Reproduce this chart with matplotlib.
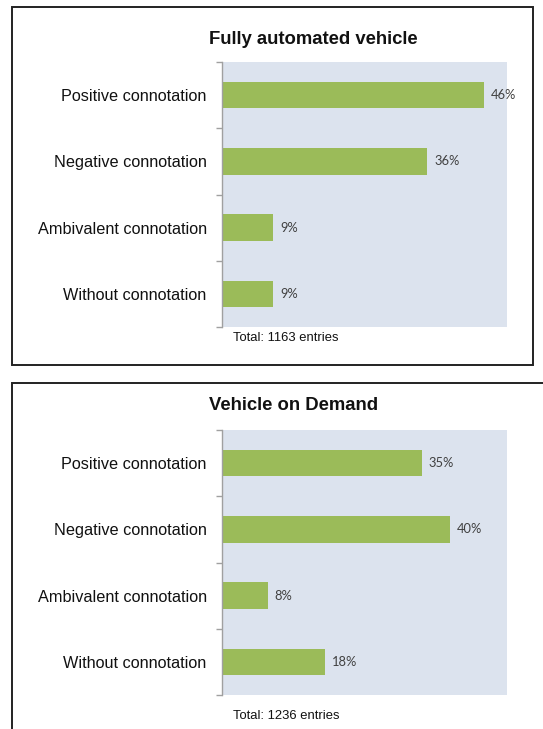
import matplotlib
matplotlib.use("Agg")
import matplotlib.pyplot as plt
from matplotlib.patches import Rectangle

categories = ["Positive connotation", "Negative connotation",
              "Ambivalent connotation", "Without connotation"]
titles = ["Fully automated vehicle", "Vehicle on Demand"]
values_fav = [46, 36, 9, 9]
values_vod = [35, 40, 8, 18]
totals = ["Total: 1163 entries", "Total: 1236 entries"]

W, H = 543, 729
fig = plt.figure(figsize=(W / 100, H / 100), dpi=100)
plt.rcParams['font.family'] = ['Liberation Sans', 'DejaVu Sans']

BAR = '#9bbb59'
BG = '#dce3ee'


def fx(px):
    return px / W


def fy(py):
    return 1 - py / H


# panel frames
fig.add_artist(Rectangle((fx(12), fy(365)), fx(533) - fx(12), fy(7) - fy(365),
                         transform=fig.transFigure, fill=False,
                         edgecolor='#222222', linewidth=1.4))
fig.add_artist(Rectangle((fx(12), fy(760)), fx(600) - fx(12), fy(383) - fy(760),
                         transform=fig.transFigure, fill=False,
                         edgecolor='#222222', linewidth=1.4, clip_on=False))

panels = [(values_fav, 62, 327, 40, 338), (values_vod, 430, 695, 405, 716)]

for i, (vals, top, bot, ty, toty) in enumerate(panels):
    ax = fig.add_axes([fx(222), fy(bot), fx(507) - fx(222), fy(top) - fy(bot)])
    ax.set_facecolor(BG)
    y = list(range(len(categories)))
    ax.barh(y, vals, height=0.4, color=BAR, edgecolor='none')
    ax.set_xlim(0, 50)
    ax.set_ylim(len(categories) - 0.5, -0.5)
    ax.set_xticks([])
    ax.set_yticks([k - 0.5 for k in range(len(categories) + 1)])
    ax.set_yticklabels([])
    ax.set_yticks(y, minor=True)
    ax.set_yticklabels(categories, minor=True, fontsize=11.7, color='#111111')
    ax.tick_params(axis='y', which='minor', length=0, pad=11)
    ax.tick_params(axis='y', which='major', length=4, color='#a0a0a0', width=1)
    for s in ['top', 'right', 'bottom']:
        ax.spines[s].set_visible(False)
    ax.spines['left'].set_color('#a0a0a0')
    ax.spines['left'].set_linewidth(1)
    for k, v in enumerate(vals):
        ax.annotate(f"{v}%", (v, k), xytext=(5, 0), textcoords='offset points',
                    va='center', ha='left', fontsize=9.3, color='#404040',
                    family=['Lato', 'DejaVu Sans'])
    fig.text(fx(209), fy(ty), titles[i], fontsize=13.3, fontweight='bold',
             ha='left', va='center', color='#111111')
    fig.text(fx(233), fy(toty), totals[i], fontsize=9.4, ha='left',
             va='center', color='#111111')

fig.savefig("out.png", dpi=100)
